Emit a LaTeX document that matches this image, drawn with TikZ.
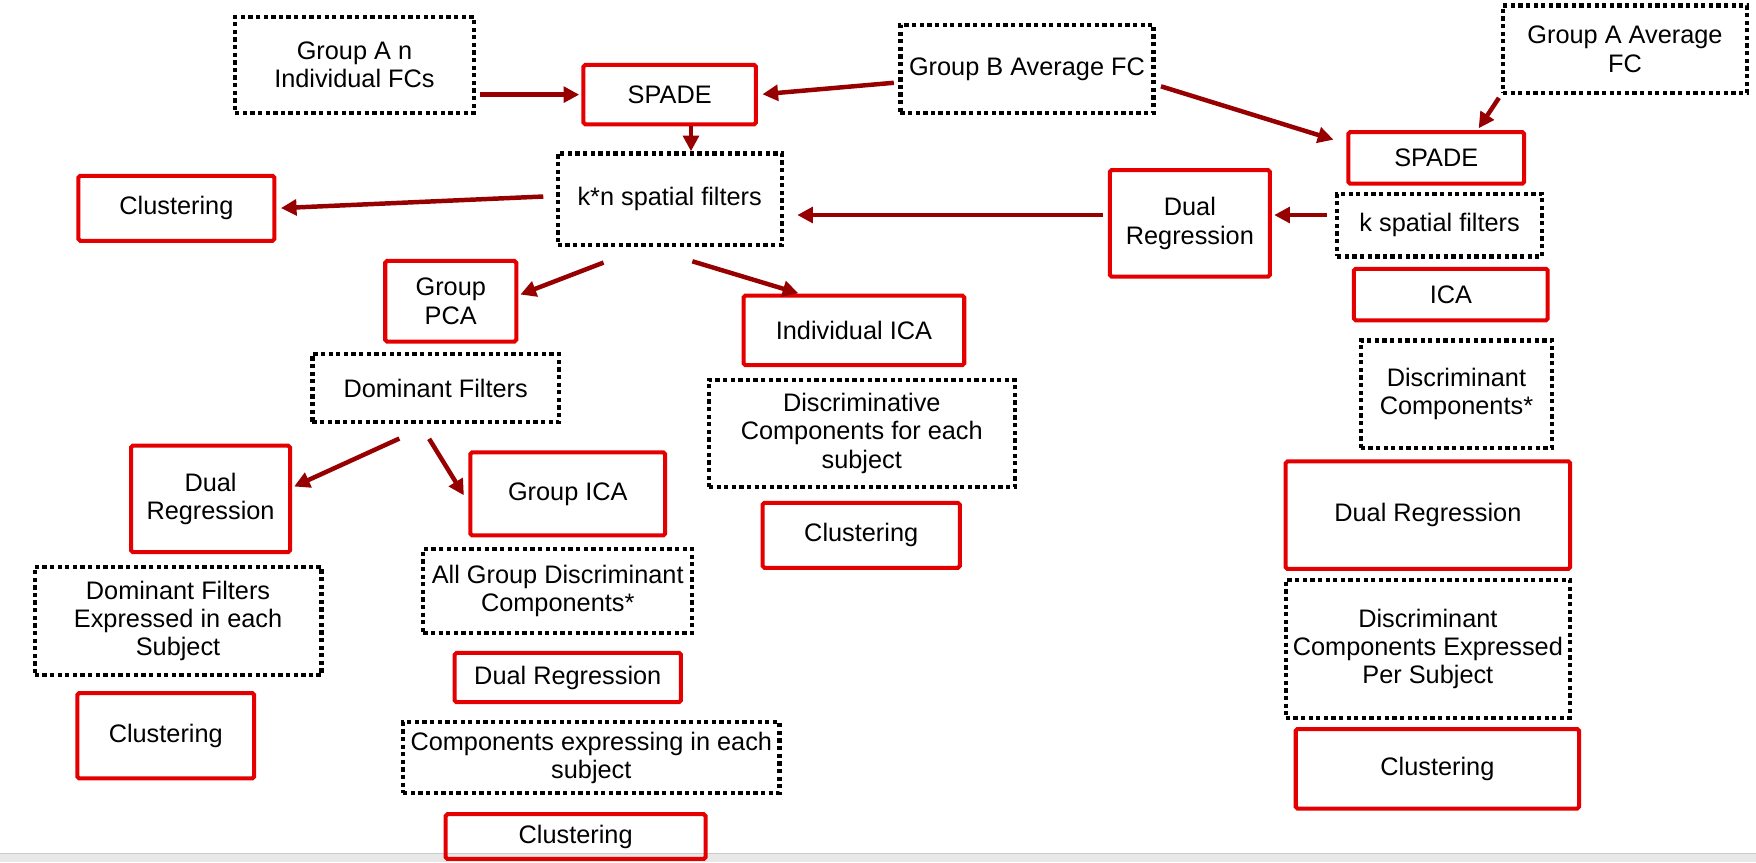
\documentclass[tikz,border=0pt]{standalone}
\usepackage{fontspec}
\setmainfont{Liberation Sans}
\usetikzlibrary{arrows.meta}
\definecolor{boxred}{RGB}{228,0,0}
\definecolor{arrred}{RGB}{150,0,0}

\begin{document}
\begin{tikzpicture}[
  x=0.5pt, y=-0.5pt,
  every node/.style={font=\fontsize{11.3}{12.6}\selectfont, align=center, inner sep=0pt},
  rbox/.style={draw=boxred, line width=1.8pt, rounded corners=0.8pt},
  dbox/.style={draw=black, line width=1.9pt, dash pattern=on 1.9pt off 1.5pt},
  arr/.style={draw=arrred, line width=2pt, -{Triangle[length=7pt,width=7pt]}},
]

\useasboundingbox (0,0) rectangle (1568,770);
\fill [gray!18] (0,762) rectangle (1568,770);
\draw [gray!40, line width=0.6pt] (0,762) -- (1568,762);

\node [dbox, minimum width=106.5pt, minimum height=43pt] (grpAn) at (316.5,58) {Group A n\\Individual FCs};
\node [rbox, minimum width=77pt, minimum height=26.5pt] (spadeL) at (598,84.5) {SPADE};
\node [dbox, minimum width=113pt, minimum height=39.5pt] (grpB) at (917,61.5) {Group B Average FC};
\node [dbox, minimum width=109pt, minimum height=39pt] (grpAavg) at (1451,44) {Group A Average\\FC};
\node [rbox, minimum width=78.5pt, minimum height=23pt] (spadeR) at (1282.5,141) {SPADE};
\node [dbox, minimum width=100pt, minimum height=41pt] (knfilt) at (598,178) {k*n spatial filters};
\node [rbox, minimum width=87.5pt, minimum height=29pt] (clustA) at (157.5,186) {Clustering};
\node [rbox, minimum width=71.5pt, minimum height=47.5pt] (dualR) at (1062.5,199.5) {Dual\\Regression};
\node [dbox, minimum width=91.5pt, minimum height=28pt] (kfilt) at (1285.5,201) {k spatial filters};
\node [rbox, minimum width=86.5pt, minimum height=23pt] (icaR) at (1295.5,263) {ICA};
\node [rbox, minimum width=58.5pt, minimum height=36pt] (gpca) at (402.5,269) {Group\\PCA};
\node [rbox, minimum width=98.5pt, minimum height=31pt] (indica) at (762.5,295) {Individual ICA};
\node [dbox, minimum width=110pt, minimum height=30.5pt] (domfilt) at (389,346.5) {Dominant Filters};
\node [dbox, minimum width=136.5pt, minimum height=48pt] (discrim) at (769.5,387) {Discriminative\\Components for each\\subject};
\node [dbox, minimum width=85.5pt, minimum height=48pt] (discR) at (1300.5,352) {Discriminant\\Components*};
\node [rbox, minimum width=71pt, minimum height=47.5pt] (dualL) at (188,445.5) {Dual\\Regression};
\node [rbox, minimum width=87pt, minimum height=37pt] (gica) at (507,441) {Group ICA};
\node [rbox, minimum width=88pt, minimum height=29pt] (clustB) at (769,478) {Clustering};
\node [rbox, minimum width=127pt, minimum height=48pt] (dualRR) at (1275,460) {Dual Regression};
\node [dbox, minimum width=128pt, minimum height=48.5pt] (domexp) at (159,554.5) {Dominant Filters\\Expressed in each\\Subject};
\node [dbox, minimum width=120pt, minimum height=37.5pt] (allgrp) at (498,527.5) {All Group Discriminant\\Components*};
\node [rbox, minimum width=101pt, minimum height=22pt] (dualM) at (507,605) {Dual Regression};
\node [dbox, minimum width=127pt, minimum height=61.5pt] (discexp) at (1275,579.5) {Discriminant\\Components Expressed\\Per Subject};
\node [rbox, minimum width=79pt, minimum height=38pt] (clustC) at (148,657) {Clustering};
\node [dbox, minimum width=168pt, minimum height=31.5pt] (compexp) at (528,676.5) {Components expressing in each\\subject};
\node [rbox, minimum width=126.5pt, minimum height=35.5pt] (clustD) at (1283.5,686.5) {Clustering};
\node [rbox, minimum width=116pt, minimum height=20pt] (clustE) at (514,747) {Clustering};

\draw [arr, shorten <=2pt, shorten >=1pt] (grpAn.east |- spadeL.west) -- (spadeL.west);
\draw [arr, shorten <=2pt, shorten >=2pt] (grpB.186) -- (spadeL.east);
\draw [arr] ([xshift=9.5pt]spadeL.south) -- ([xshift=9.5pt]knfilt.north);
\draw [arr, shorten <=2.5pt, shorten >=6pt] (grpB.-7) -- (spadeR.171);
\draw [arr, shorten <=1.5pt, shorten >=1pt] (grpAavg.south west) -- (spadeR.34.5);
\draw [arr, shorten <=3.5pt, shorten >=1pt] ([yshift=4.5pt]kfilt.west) -- ([yshift=4.5pt]kfilt.west -| dualR.east);
\draw [arr, shorten <=2pt, shorten >=6pt] ([yshift=3.75pt]dualR.west) -- ([yshift=3.75pt]dualR.west -| knfilt.east);
\draw [arr, shorten <=5.5pt, shorten >=2pt] ([yshift=1.5pt]knfilt.west) -- (clustA.east);
\draw [arr, shorten <=18.9pt, shorten >=1pt] (knfilt.-119) -- (gpca.5);
\draw [arr, shorten <=21.5pt, shorten >=0.5pt] (knfilt.-116) -- (indica.146);
\draw [arr, shorten <=15.3pt, shorten >=1pt] (domfilt.-98) -- (dualL.8);
\draw [arr, shorten <=7.6pt, shorten >=3.8pt] (domfilt.-113) -- (gica.185);

\end{tikzpicture}
\end{document}
